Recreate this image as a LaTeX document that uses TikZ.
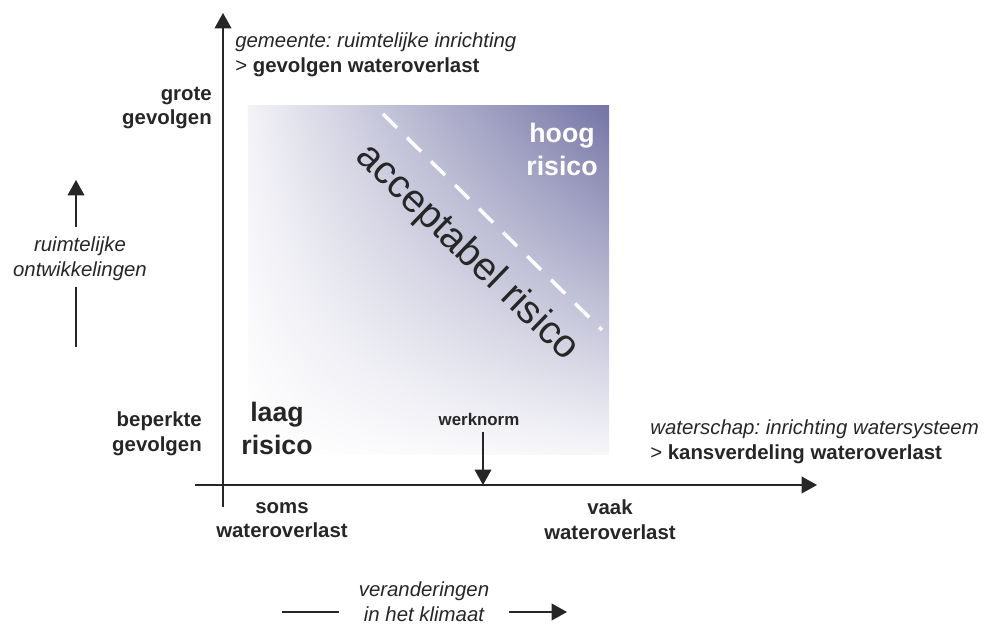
\documentclass[tikz,border=0pt]{standalone}
\usepackage{fontspec}
\setmainfont{Liberation Sans}
\usepackage{tikz}
\usetikzlibrary{arrows.meta, positioning, shadings}
\definecolor{risicopaars}{RGB}{116, 116, 166}
\definecolor{asgrijs}{RGB}{38, 38, 38}
\frenchspacing

\begin{document}
\begin{tikzpicture}[>={Triangle[width=12pt, length=11pt]},
    tekst/.style={font=\fontsize{14.5}{17.5}\selectfont, text=asgrijs, inner sep=0pt},
    vet/.style={tekst, font=\fontsize{14.5}{17.5}\selectfont\bfseries},
    groot/.style={tekst, font=\fontsize{19}{23.5}\selectfont\bfseries, align=center},
    as/.style={line width=0.9pt, color=asgrijs}]
    \useasboundingbox (-5.575, -3.475) rectangle (19.15, 12.125);

    \shade[lower left=white, upper left=risicopaars!9, lower right=risicopaars!6, upper right=risicopaars] (0.625, 0.75) rectangle (9.65, 9.475);
    \draw[white, line width=2.5pt, dash pattern=on 14pt off 10pt] (4.0, 9.275) -- (9.475, 3.875);

    \node[tekst, font=\fontsize{28}{33}\selectfont, rotate=-44] (acceptabel) at (6.1, 5.8) {acceptabel risico};
    \node[groot, text=white] (hoog) at (8.475, 8.4) {hoog\\risico};
    \node[groot] (laag) at (1.35, 1.425) {laag\\risico};

    \coordinate (O) at (0, 0);
    \coordinate (ytop) at (0, 11.8);
    \coordinate (ybot) at (0, -0.55);
    \coordinate (xlinks) at (-0.7, 0);
    \coordinate (xrechts) at (14.85, 0);
    \draw[as, ->] (ybot) -- (ytop);
    \draw[as, ->] (xlinks) -- (xrechts);

    \node[tekst, anchor=west, align=left] (gemeente) at (0.3, 10.75) {\textit{gemeente: ruimtelijke inrichting}\\> \textbf{gevolgen wateroverlast}};
    \node[tekst, anchor=west, align=left] (waterschap) at (10.675, 1.075) {\textit{waterschap: inrichting watersysteem}\\> \textbf{kansverdeling wateroverlast}};

    \node[vet, anchor=east, align=right] (grote) at (-0.275, 9.425) {grote\\gevolgen};
    \node[vet, anchor=east, align=right] (beperkte) at (-0.525, 1.275) {beperkte\\gevolgen};
    \node[vet, align=center] (soms) at (1.475, -0.875) {soms\\wateroverlast};
    \node[vet, align=center] (vaak) at (9.675, -0.875) {vaak\\wateroverlast};

    \node[vet, font=\fontsize{12}{14}\selectfont\bfseries] (werknorm) at (6.4, 1.65) {werknorm};
    \coordinate (norm) at (6.5, 0);
    \draw[as, ->] ([yshift=-5pt]werknorm.south -| norm) -- (norm);

    \node[tekst, font=\fontsize{14.5}{17.5}\selectfont\itshape, align=center] (ontw) at (-3.575, 5.65) {ruimtelijke\\ontwikkelingen};
    \coordinate (ontwtop) at (-3.675, 7.625);
    \coordinate (ontwbot) at (-3.675, 3.45);
    \draw[as, ->] ([yshift=7pt]ontw.north -| ontwtop) -- (ontwtop);
    \draw[as] ([yshift=-4pt]ontw.south -| ontwbot) -- (ontwbot);

    \node[tekst, font=\fontsize{14.5}{17.5}\selectfont\itshape, align=center] (klimaat) at (5.025, -2.925) {veranderingen\\in het klimaat};
    \coordinate (klimaatlinks) at (1.475, -3.175);
    \coordinate (klimaatrechts) at (8.6, -3.175);
    \draw[as] (klimaatlinks) -- ([xshift=-14pt]klimaat.west |- klimaatlinks);
    \draw[as, ->] ([xshift=14pt]klimaat.east |- klimaatrechts) -- (klimaatrechts);
\end{tikzpicture}
\end{document}
